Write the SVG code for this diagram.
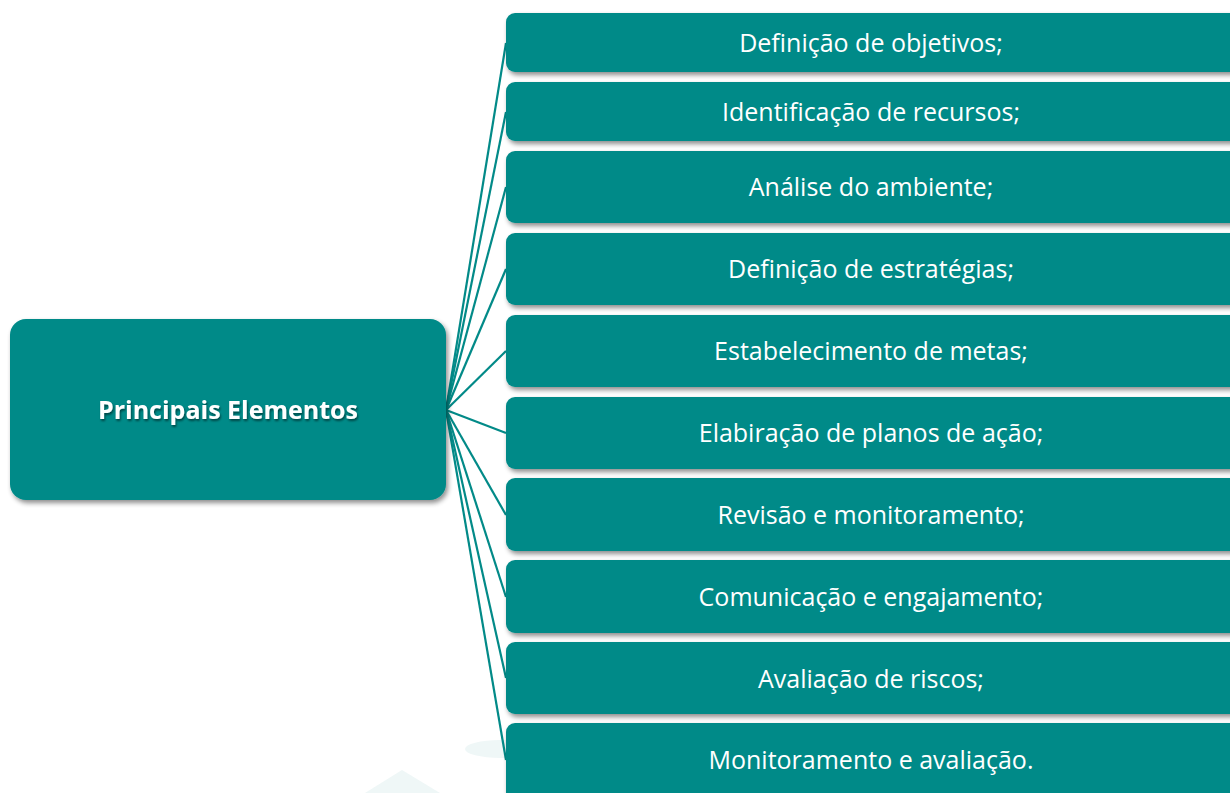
<svg xmlns="http://www.w3.org/2000/svg" width="1230" height="793" viewBox="0 0 1230 793">
<defs>
<filter id="sh" x="-10%" y="-20%" width="130%" height="150%">
<feGaussianBlur in="SourceAlpha" stdDeviation="2.5"/>
<feOffset dx="2" dy="3" result="b"/>
<feComponentTransfer><feFuncA type="linear" slope="0.45"/></feComponentTransfer>
<feMerge><feMergeNode/><feMergeNode in="SourceGraphic"/></feMerge>
</filter>
<filter id="tsh" x="-5%" y="-30%" width="110%" height="160%">
<feGaussianBlur in="SourceAlpha" stdDeviation="1"/>
<feOffset dx="1" dy="2"/>
<feComponentTransfer><feFuncA type="linear" slope="0.5"/></feComponentTransfer>
<feMerge><feMergeNode/><feMergeNode in="SourceGraphic"/></feMerge>
</filter>
</defs>
<style>
.box{fill:#028A88;filter:url(#sh)}
.t{fill:#ffffff;font-family:"Open Sans","Noto Sans","DejaVu Sans",sans-serif;font-size:25px;text-anchor:middle}
.tb{fill:#ffffff;font-family:"Open Sans","Noto Sans","DejaVu Sans",sans-serif;font-size:25px;font-weight:bold;text-anchor:middle;filter:url(#tsh)}
.c{stroke:#028A88;stroke-width:2.2;fill:none}
</style>
<rect width="1230" height="793" fill="#ffffff"/>
<g id="watermark" fill="#eff7f7">
<polygon points="402,770 440,793 365,793"/>
<ellipse cx="500" cy="749" rx="35" ry="9"/>
</g>
<g id="connectors">
<line class="c" x1="446" y1="410" x2="506" y2="43"/>
<line class="c" x1="446" y1="410" x2="506" y2="112"/>
<line class="c" x1="446" y1="410" x2="506" y2="187"/>
<line class="c" x1="446" y1="410" x2="506" y2="269"/>
<line class="c" x1="446" y1="410" x2="506" y2="351"/>
<line class="c" x1="446" y1="410" x2="506" y2="433"/>
<line class="c" x1="446" y1="410" x2="506" y2="515"/>
<line class="c" x1="446" y1="410" x2="506" y2="597"/>
<line class="c" x1="446" y1="410" x2="506" y2="678"/>
<line class="c" x1="446" y1="410" x2="506" y2="760"/>
</g>
<g id="root">
<rect class="box" x="10" y="319" width="436" height="181" rx="16"/>
<text class="tb" x="228" y="419">Principais Elementos</text>
</g>
<g id="n1"><rect class="box" x="506" y="13" width="740" height="59" rx="9"/><text class="t" x="871" y="52">Definição de objetivos;</text></g>
<g id="n2"><rect class="box" x="506" y="82" width="740" height="59" rx="9"/><text class="t" x="871" y="121">Identificação de recursos;</text></g>
<g id="n3"><rect class="box" x="506" y="151" width="740" height="72" rx="9"/><text class="t" x="871" y="196">Análise do ambiente;</text></g>
<g id="n4"><rect class="box" x="506" y="233" width="740" height="72" rx="9"/><text class="t" x="871" y="278">Definição de estratégias;</text></g>
<g id="n5"><rect class="box" x="506" y="315" width="740" height="72" rx="9"/><text class="t" x="871" y="360">Estabelecimento de metas;</text></g>
<g id="n6"><rect class="box" x="506" y="397" width="740" height="72" rx="9"/><text class="t" x="871" y="442">Elabiração de planos de ação;</text></g>
<g id="n7"><rect class="box" x="506" y="478" width="740" height="73" rx="9"/><text class="t" x="871" y="524">Revisão e monitoramento;</text></g>
<g id="n8"><rect class="box" x="506" y="560" width="740" height="73" rx="9"/><text class="t" x="871" y="606">Comunicação e engajamento;</text></g>
<g id="n9"><rect class="box" x="506" y="642" width="740" height="72" rx="9"/><text class="t" x="871" y="688">Avaliação de riscos;</text></g>
<g id="n10"><rect class="box" x="506" y="723" width="740" height="90" rx="9"/><text class="t" x="871" y="769">Monitoramento e avaliação.</text></g>
</svg>
